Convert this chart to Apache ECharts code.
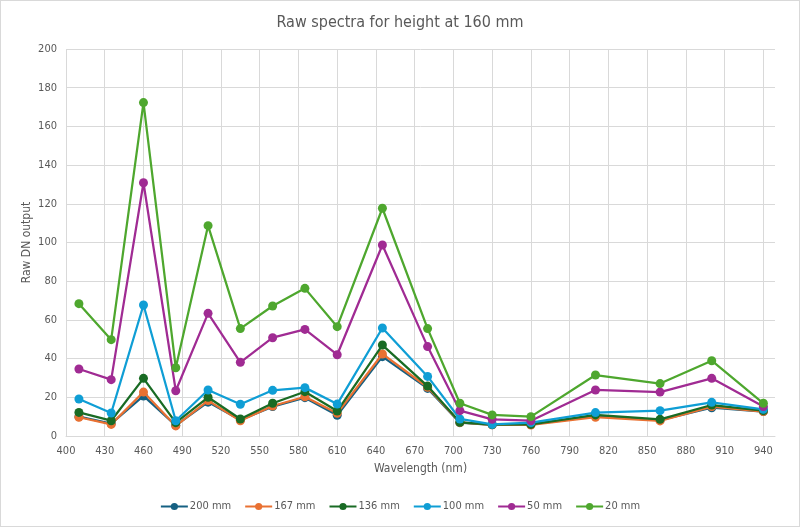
<!DOCTYPE html>
<html>
<head>
<meta charset="utf-8">
<script src="https://cdn.jsdelivr.net/npm/echarts@6/dist/echarts.min.js"></script>
<style>
html,body{margin:0;padding:0;background:#fff;}
#c{width:798px;height:525px;border:1px solid #d9d9d9;}
</style>
</head>
<body>
<div id="c"></div>
<script>
const wavelengths = [410, 435, 460, 485, 510, 535, 560, 585, 610, 645, 680, 705, 730, 760, 810, 860, 900, 940];
const seriesNames = ['200 mm', '167 mm', '136 mm', '100 mm', '50 mm', '20 mm'];
const s200 = [10.0, 6.4, 20.7, 5.5, 17.5, 8.3, 15.2, 19.8, 10.7, 41.0, 24.6, 6.9, 5.8, 6.0, 10.3, 8.2, 14.6, 12.6];
const s167 = [9.7, 6.0, 22.7, 5.2, 18.3, 7.9, 15.5, 20.3, 11.7, 42.4, 25.2, 7.0, 5.8, 5.7, 9.7, 7.8, 15.2, 12.6];
const s136 = [12.2, 7.9, 29.8, 6.9, 20.0, 8.8, 16.9, 22.9, 12.9, 47.0, 25.8, 7.1, 5.9, 6.0, 10.9, 8.6, 16.0, 13.1];
const s100 = [19.1, 11.9, 67.7, 7.9, 23.8, 16.4, 23.6, 25.0, 16.5, 55.8, 30.8, 8.8, 6.0, 6.9, 12.1, 13.1, 17.4, 13.8];
const s50 = [34.6, 29.1, 130.9, 23.4, 63.4, 38.1, 50.8, 55.1, 42.0, 98.7, 46.2, 13.1, 8.6, 7.9, 23.8, 22.7, 29.8, 15.2];
const s20 = [68.4, 49.8, 172.3, 35.3, 108.7, 55.5, 67.2, 76.3, 56.5, 117.7, 55.5, 16.9, 10.9, 10.0, 31.5, 27.1, 38.9, 16.9];
const xTicksMin = 400, xTicksMax = 949, xInterval = 30;
const yMin = 0, yMax = 200, yInterval = 20;

const colors = ['#156082', '#E97132', '#196B24', '#0F9ED5', '#A02B93', '#4EA72E'];
const allData = [s200, s167, s136, s100, s50, s20];
const font = "'Liberation Sans Narrow', 'DejaVu Sans Condensed', 'Roboto', sans-serif";

const chart = echarts.init(document.getElementById('c'));
chart.setOption({
  animation: false,
  color: colors,
  title: {
    text: 'Raw spectra for height at 160 mm',
    left: 'center', top: 9,
    textStyle: {fontFamily: font, fontSize: 16, fontWeight: 'normal', color: '#595959'}
  },
  grid: {left: 65, right: 24, top: 48, bottom: 90},
  legend: {
    bottom: 9,
    left: 'center',
    itemWidth: 27, itemHeight: 9, itemGap: 13,
    textStyle: {fontFamily: font, fontSize: 11, color: '#595959', padding: [0, 0, 0, -3]},
    data: seriesNames
  },
  xAxis: {
    type: 'value', min: xTicksMin, max: xTicksMax, interval: xInterval,
    name: 'Wavelength (nm)', nameLocation: 'middle', nameGap: 27, nameMoveOverlap: false,
    nameTextStyle: {fontFamily: font, fontSize: 12, color: '#595959'},
    axisLine: {show: true, lineStyle: {color: '#d9d9d9', width: 1}},
    axisTick: {show: false},
    axisLabel: {fontFamily: font, fontSize: 11, color: '#595959', margin: 10, showMaxLabel: false,
      formatter: v => ((v - xTicksMin) % xInterval === 0 ? String(v) : '')},
    splitLine: {show: true, showMaxLine: false, lineStyle: {color: '#d9d9d9', width: 1}}
  },
  yAxis: {
    type: 'value', min: yMin, max: yMax, interval: yInterval,
    name: 'Raw DN output', nameLocation: 'middle', nameGap: 33, nameRotate: 90, nameMoveOverlap: false,
    nameTextStyle: {fontFamily: font, fontSize: 12, color: '#595959'},
    axisLine: {show: false},
    axisTick: {show: false},
    axisLabel: {fontFamily: font, fontSize: 11, color: '#595959', margin: 9},
    splitLine: {show: true, lineStyle: {color: '#d9d9d9', width: 1}}
  },
  series: seriesNames.map((name, i) => ({
    name: name,
    type: 'line',
    data: wavelengths.map((w, j) => [w, allData[i][j]]),
    symbol: 'circle',
    symbolSize: 9,
    lineStyle: {width: 2.25, color: colors[i]},
    itemStyle: {color: colors[i]},
    z: 2 + i
  }))
});
</script>
</body>
</html>
